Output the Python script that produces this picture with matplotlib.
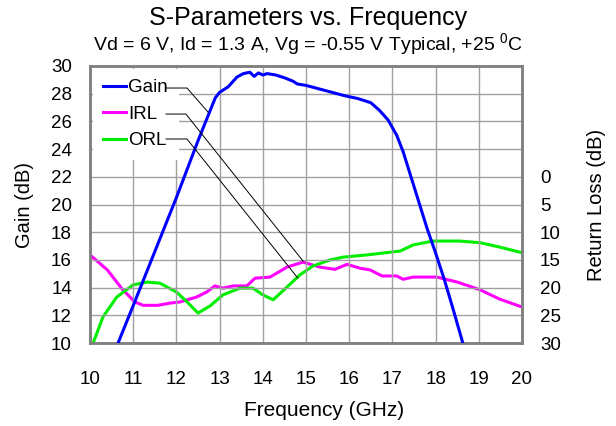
import matplotlib
matplotlib.use("Agg")
import matplotlib.pyplot as plt
import numpy as np

plt.rcParams["font.family"] = ["Liberation Sans", "DejaVu Sans"]
plt.rcParams["mathtext.fontset"] = "custom"
plt.rcParams["mathtext.rm"] = "Liberation Sans"

# ── Data ──────────────────────────────────────────────────────────────────────
gain_freq = [10.65, 11.0, 11.5, 12.0, 12.5, 12.9, 13.0, 13.2, 13.4, 13.55, 13.7,
             13.8, 13.9, 14.0, 14.1, 14.3, 14.5, 14.7, 14.8, 15.0, 15.3, 15.6,
             15.9, 16.2, 16.5, 16.7, 16.9, 17.1, 17.25, 17.4, 17.6, 17.8, 18.0,
             18.2, 18.4, 18.63]
gain_db = [10.0, 12.7, 16.6, 20.5, 24.6, 27.7, 28.1, 28.5, 29.2, 29.45, 29.55,
           29.25, 29.5, 29.35, 29.45, 29.35, 29.15, 28.9, 28.7, 28.6, 28.35, 28.1,
           27.85, 27.65, 27.35, 26.8, 26.1, 25.0, 23.8, 22.3, 20.3, 18.3, 16.5,
           14.6, 12.5, 10.0]

irl_freq = [10.0, 10.4, 10.76, 11.04, 11.23, 11.57, 11.85, 12.08, 12.47, 12.7,
            12.89, 13.08, 13.31, 13.63, 13.82, 14.17, 14.56, 14.93, 15.32, 15.67,
            15.95, 16.25, 16.48, 16.76, 17.1, 17.25, 17.48, 18.03, 18.5, 19.03,
            19.49, 20.0]
irl_db = [14.1, 16.8, 20.4, 22.6, 23.2, 23.2, 22.8, 22.6, 21.7, 20.8,
          19.7, 20.1, 19.7, 19.7, 18.3, 18.1, 16.3, 15.4, 16.3, 16.7,
          15.8, 16.5, 16.8, 17.9, 17.9, 18.5, 18.1, 18.1, 19.0, 20.4,
          22.1, 23.5]

orl_freq = [10.0, 10.3, 10.62, 11.0, 11.32, 11.62, 12.0, 12.25, 12.5, 12.78,
            13.08, 13.47, 13.77, 14.0, 14.24, 14.56, 14.86, 15.16, 15.56, 15.86,
            16.41, 17.18, 17.48, 17.94, 18.56, 19.03, 19.49, 20.0]
orl_db = [31.5, 25.3, 21.7, 19.5, 19.0, 19.2, 20.8, 22.6, 24.6, 23.3,
          21.3, 20.1, 20.1, 21.3, 22.2, 19.9, 17.7, 16.1, 15.0, 14.5,
          14.1, 13.4, 12.3, 11.6, 11.6, 11.9, 12.7, 13.7]

# leader lines from legend labels to curves (gain-axis coordinates)
lead_gain = ([11.76, 12.245, 12.73], [28.41, 28.41, 26.68])
lead_irl = ([11.76, 12.22, 14.93], [26.53, 26.53, 15.92])
lead_orl = ([11.76, 12.245, 14.81], [24.73, 24.73, 14.69])

fig = plt.figure(figsize=(6.16, 4.26), dpi=100)
ax = fig.add_axes([90 / 616, 1 - 343 / 426, 432 / 616, 277 / 426])
ax2 = ax.twinx()

ax.set_xlim(10, 20)
ax.set_ylim(10, 30)
ax2.set_ylim(30, -20)

ax.set_xticks(range(10, 21))
ax.set_yticks(range(10, 31, 2))
ax2.set_yticks(range(0, 31, 5))

ax.grid(True, color="#a0a0a0", linewidth=1)
for sp in list(ax.spines.values()) + list(ax2.spines.values()):
    sp.set_color("#808080")
    sp.set_linewidth(1.8)

ax.tick_params(length=0, labelsize=13.5, pad=13)
ax.tick_params(axis="x", pad=20)
ax2.tick_params(length=0, labelsize=13.5, pad=13)

l_gain, = ax.plot(gain_freq, gain_db, color="#0000ff", linewidth=2.2, zorder=5)
l_irl, = ax2.plot(irl_freq, irl_db, color="#ff00ff", linewidth=2.2)
l_orl, = ax2.plot(orl_freq, orl_db, color="#00ee00", linewidth=2.2)

ax.set_zorder(ax2.get_zorder() + 1)
ax.patch.set_visible(False)

for xs, ys in (lead_gain, lead_irl, lead_orl):
    ax.plot(xs, ys, color="black", linewidth=0.7, zorder=6)

leg = ax.legend([l_gain, l_irl, l_orl], ["Gain", "IRL", "ORL"],
                loc="upper left", bbox_to_anchor=(0.0, 1.0),
                fontsize=13.5, handlelength=1.2, handletextpad=0.15,
                labelspacing=0.5, borderpad=0.55, borderaxespad=0.15,
                frameon=True, fancybox=False, framealpha=1, edgecolor="none")
leg.set_zorder(4)

ax.set_xlabel("Frequency (GHz)", fontsize=15)
ax.xaxis.set_label_coords((324 - 90) / 432, -(410 - 343) / 277)
ax.set_ylabel("Gain (dB)", fontsize=14.5)
ax.yaxis.set_label_coords(-(90 - 24) / 432, 0.5)
ax2.set_ylabel("Return Loss (dB)", fontsize=14.5)
ax2.yaxis.set_label_coords((597 - 90) / 432, 0.5)
ax.xaxis.label.set_va("center")
ax.yaxis.label.set_va("center")
ax2.yaxis.label.set_va("center")

fig.text(0.5, 1 - 18 / 426, "S-Parameters vs. Frequency", ha="center",
         va="center", fontsize=18)
fig.text(0.5, 1 - 45 / 426,
         "Vd = 6 V, Id = 1.3 A, Vg = -0.55 V Typical, +25 $^{0}$C",
         ha="center", va="center", fontsize=14)

fig.savefig("out.png", dpi=100)
